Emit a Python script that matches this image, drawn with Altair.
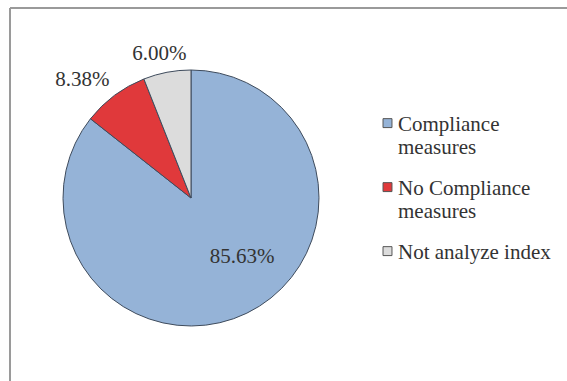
import altair as alt
import pandas as pd
import math

categories = ["Compliance measures", "No Compliance measures", "Not analyze index"]
values = [85.63, 8.38, 6.00]
labels = ["85.63%", "8.38%", "6.00%"]
colors = ["#95B3D7", "#E0393B", "#DCDCDC"]

df = pd.DataFrame({"cat": categories, "val": values, "lab": labels, "ord": [0, 1, 2]})

CX, CY, R = 191, 198, 128
FONT = "Liberation Serif"
TXT = "#333333"
FS = 21

color = alt.Color(
    "cat:N",
    scale=alt.Scale(domain=categories, range=colors),
    legend=alt.Legend(
        title=None, orient="none", legendX=377, legendY=103,
        symbolType="M-1,1.15H1V3.15H-1Z", symbolSize=80, symbolStrokeColor="#555555",
        symbolStrokeWidth=1, labelFont=FONT, labelFontSize=FS, labelColor=TXT,
        labelExpr="datum.label == 'Not analyze index' ? datum.label : split(replace(datum.label, ' measures', '|measures'), '|')",
        labelLimit=300, rowPadding=9, labelOffset=0, labelBaseline="top",
    ),
)

pie = alt.Chart(df).mark_arc(
    x=CX, y=CY, outerRadius=R, stroke="#3E4B5C", strokeWidth=1
).encode(
    theta=alt.Theta("val:Q", stack=True),
    order=alt.Order("ord:Q"),
    color=color,
)

lab_base = alt.Chart(df).transform_window(
    cum="sum(val)", sort=[alt.SortField("ord")], frame=[None, 0]
).transform_joinaggregate(
    tot="sum(val)"
).transform_calculate(
    mid="(datum.cum - datum.val / 2) / datum.tot"
).encode(
    theta=alt.Theta("mid:Q", stack=None, scale=alt.Scale(domain=[0, 1], range=[0, 2 * math.pi])),
    text="lab:N",
)

txt_in = lab_base.mark_text(
    x=CX, y=CY, radius=78, font=FONT, fontSize=FS, color=TXT, dx=17, dy=-11
).transform_filter("datum.ord == 0")

txt_red = lab_base.mark_text(
    x=CX, y=CY, radius=160, font=FONT, fontSize=FS, color=TXT, dx=-13, dy=10
).transform_filter("datum.ord == 1")

txt_gray = lab_base.mark_text(
    x=CX, y=CY, radius=147, font=FONT, fontSize=FS, color=TXT, dx=-4, dy=0
).transform_filter("datum.ord == 2")

frame_top = alt.Chart(df).mark_rule(stroke="#9A9A9A", strokeWidth=2).encode(
    x=alt.value(10), x2=alt.value(567), y=alt.value(8)
)
frame_left = alt.Chart(df).mark_rule(stroke="#9A9A9A", strokeWidth=2).encode(
    x=alt.value(10), y=alt.value(8), y2=alt.value(381)
)

chart = alt.layer(frame_top, frame_left, pie, txt_in, txt_red, txt_gray).resolve_scale(
    theta="independent"
).properties(
    width=567, height=381, autosize=alt.AutoSizeParams(type="none"), padding=0,
    background="white",
).configure_view(stroke=None)

chart.save("out.html", embed_options={"renderer": "svg", "actions": False})
